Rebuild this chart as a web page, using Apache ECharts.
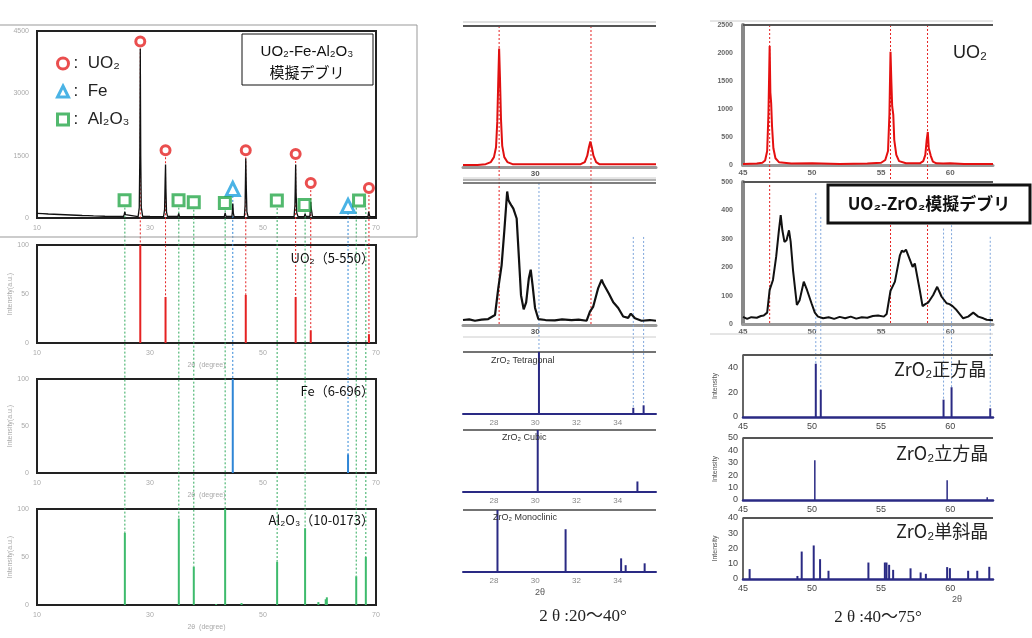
<!DOCTYPE html>
<html>
<head>
<meta charset="utf-8" />
<title>XRD</title>
<style>
  html, body { margin: 0; padding: 0; background: #fff; }
  #main { width: 1032px; height: 638px; }
</style>
</head>
<body>
<div id="main"></div>
<script src="https://cdn.jsdelivr.net/npm/echarts@6/dist/echarts.min.js"></script>
<script>
// ---------- left column : UO2-Fe-Al2O3 ----------
var mixPattern = [
  [10,110],[11,105],[12,96],[13,90],[14,84],[15,78],[16,72],[17,66],[18,60],[19,55],[20,50],[21,46],[22,42],[23,40],[24,38],
  [25.3,36],[25.45,90],[25.55,150],[25.65,80],[25.8,36],
  [27.9,35],[28.1,250],[28.2,1500],[28.28,4070],[28.36,1500],[28.46,250],[28.7,40],
  [30,36],[32.4,35],[32.58,200],[32.68,900],[32.75,1290],[32.82,700],[32.92,150],[33.1,38],
  [34.95,36],[35.08,110],[35.22,36],[37.62,34],[37.75,70],[37.9,34],
  [42,32],[43.15,32],[43.3,120],[43.45,40],[44.5,40],[44.58,150],[44.65,350],[44.75,120],[44.88,36],
  [46.7,35],[46.83,300],[46.95,1430],[47.05,700],[47.15,150],[47.35,36],
  [50,34],[52.35,32],[52.5,50],[52.65,32],
  [55.5,34],[55.65,300],[55.78,1290],[55.86,600],[55.98,120],[56.2,36],
  [57.3,34],[57.45,100],[57.6,40],[58.3,40],[58.38,200],[58.45,390],[58.52,250],[58.6,220],[58.75,40],
  [61,32],[64.9,30],[65.05,45],[65.2,30],[66.35,30],[66.5,50],[66.65,30],
  [68.05,30],[68.2,55],[68.35,30],[68.6,40],[68.7,150],[68.78,190],[68.9,40],[70,30]
];
var uo2Peaks = [28.28, 32.75, 46.95, 55.78, 58.45, 68.75];
var uo2Marks = [4250, 1630, 1630, 1540, 840, 720];
var uo2Ref = [100, 47, 49, 47, 13, 9];
var fePeaks = [44.65, 65.05];
var feMarks = [700, 290];
var feRef = [100, 20];
var al2o3Marks = [[25.5,430],[35.05,430],[37.75,380],[43.25,360],[52.45,420],[57.35,310],[67.0,420]];
var al2o3Ref = [[25.55,75],[35.1,90],[37.75,40],[41.7,1],[43.3,100],[46.2,2],[52.5,45],[57.45,80],[59.8,3],[61.1,6],[61.3,8],[66.5,30],[68.2,50]];
var al2o3GuideTheta = [25.55, 35.1, 37.75, 43.3, 52.5, 57.45, 66.5, 68.2];
var al2o3GuideStart = [250, 250, 200, 185, 240, 130, 250, 240];
var leftTicks = [10, 30, 50, 70];

// ---------- middle column : 2theta 26.5-36 ----------
var uo2LowPattern = [
  [26.5,1.5],[27.2,1.5],[27.6,2],[27.85,3.5],[28.0,7],[28.1,14],[28.16,32],[28.21,62],[28.25,84],[28.29,64],[28.34,34],[28.4,15],
  [28.5,7],[28.65,3.5],[28.9,2],[30,2],[31,2],[32.2,2],[32.4,3.5],[32.52,8],[32.6,14],[32.67,18],[32.74,14],[32.82,8],[32.95,3.5],
  [33.1,2],[34,2],[35.85,2]
];
var mixLowPattern = [
  [26.5,3.5],[26.8,4],[27.08,3],[27.4,3.8],[27.72,4.2],[28.05,7],[28.21,26],[28.37,42],[28.5,66],[28.64,94],[28.7,88],[28.77,86],
  [28.85,84],[28.94,82],[29.1,75],[29.21,47],[29.31,21],[29.44,11],[29.56,16],[29.69,33],[29.78,39],[29.87,28],[29.99,12],
  [30.15,4.2],[30.5,3.5],[30.95,3.3],[31.3,4],[31.76,3.5],[32.1,3.8],[32.49,3],[32.65,9.4],[32.81,13],[33.05,26],[33.22,32],
  [33.3,29],[33.38,28],[33.57,22],[33.78,16],[34.02,12],[34.26,6],[34.5,5],[34.63,8],[34.83,4.7],[35.15,3],[35.55,3.5],[35.85,3]
];
var tetraLow = [[30.18,100],[34.75,10],[35.25,14]];
var cubicLow = [[30.12,100],[34.95,17]];
var monoLow = [[28.17,100],[31.47,69],[34.16,22],[34.38,11],[35.3,14]];
var uo2LowGuides = [28.25, 32.7];
var zrLowGuides = [[30.18,100,100],[34.75,62,10],[35.25,62,14]];
var lowTicks = [28, 30, 32, 34];
var lowTopTicks = [30];

// ---------- right column : 2theta 45-63 ----------
var uo2HighPattern = [
  [45,20],[46,25],[46.4,40],[46.6,80],[46.75,250],[46.84,900],[46.9,1700],[46.93,2125],[46.98,1300],[47.04,1100],[47.1,700],
  [47.2,300],[47.35,120],[47.6,50],[48.5,25],[50,30],[52,20],[54,25],[55.0,40],[55.3,90],[55.5,250],[55.6,900],[55.68,2020],
  [55.74,1500],[55.8,1050],[55.88,900],[55.95,450],[56.1,180],[56.3,70],[56.8,30],[57.8,30],[58.05,70],[58.2,180],[58.3,450],
  [58.38,590],[58.45,300],[58.52,330],[58.6,160],[58.75,60],[59.0,30],[59.5,25],[60,30],[61,20],[63.1,20]
];
var mixHighPattern = [
  [45,25],[45.3,18],[45.6,24],[46,22],[46.3,28],[46.5,30],[46.75,40],[46.93,120],[47.17,155],[47.4,236],[47.6,330],[47.73,383],
  [47.85,330],[48.0,289],[48.15,295],[48.33,330],[48.45,290],[48.62,190],[48.9,67],[49.1,84],[49.4,149],[49.64,119],[49.96,73],
  [50.2,40],[50.43,26],[50.8,20],[51.2,24],[51.6,18],[52,25],[52.4,20],[52.8,26],[53.2,19],[53.6,24],[54,22],[54.4,28],[54.78,30],
  [55.2,26],[55.4,35],[55.68,117],[56.0,149],[56.36,242],[56.5,258],[56.65,254],[56.8,262],[56.96,242],[57.28,201],[57.44,213],
  [57.8,119],[58.0,63],[58.2,70],[58.4,75],[58.77,102],[59.06,131],[59.38,96],[59.74,73],[59.95,70],[60.17,63],[60.46,49],
  [60.94,20],[61.3,26],[61.67,40],[62.03,26],[62.4,20],[62.64,15],[63.1,13]
];
var tetraHigh = [[50.27,43],[50.63,22],[59.52,14],[60.1,24],[62.9,7]];
var cubicHigh = [[50.2,32],[59.78,16],[62.68,2.2]];
var monoHigh = [
  [45.48,6.5],[48.94,2],[49.25,18],[50.12,22],[50.58,13],[51.19,5.4],[54.08,10.8],[55.27,10.8],[55.39,10.8],[55.58,9.3],
  [55.87,6],[57.13,7],[57.86,4.3],[58.24,3.4],[59.78,7.8],[59.98,7.1],[61.3,5.4],[61.96,5.4],[62.83,8]
];
var uo2HighGuides = [46.93, 55.68, 58.36];
var zrHighGuides = [[50.27,461,43],[50.63,377,22],[59.52,336,14],[60.1,348,24],[62.9,307,7]];
var highTicks = [45, 50, 55, 60];

// ---------- chart ----------
var RED = '#e52222', GREEN = '#2faa5c', BLUE = '#2f86d6', NAVY = '#2a2a84';
var chart = echarts.init(document.getElementById('main'));
var grids = [], xAxes = [], yAxes = [], series = [];
function plain(v) { return String(v); }

function addPanel(box, xa, ya, frame) {
  var i = grids.length;
  grids.push({ left: box[0], top: box[1], width: box[2], height: box[3], show: !!frame,
               borderColor: '#222', borderWidth: 2, backgroundColor: 'transparent' });
  xa.gridIndex = i; ya.gridIndex = i;
  xa.splitLine = { show: false }; ya.splitLine = { show: false };
  xAxes.push(xa); yAxes.push(ya);
  return i;
}

function leftX(named) {
  return { type: 'value', min: 10, max: 70, interval: 20,
    axisLine: { show: false }, axisTick: { show: false },
    axisLabel: { customValues: leftTicks, color: '#aaa', fontSize: 7, margin: 7, formatter: plain },
    name: named ? '2θ  (degree)' : '', nameLocation: 'middle', nameGap: 19,
    nameTextStyle: { color: '#aaa', fontSize: 7 } };
}
function leftY(max, step, named) {
  return { type: 'value', min: 0, max: max, interval: step,
    axisLine: { show: false }, axisTick: { show: false },
    axisLabel: { color: '#aaa', fontSize: 7, margin: 8, formatter: plain },
    name: named ? 'Intensity(a.u.)' : '', nameLocation: 'middle', nameGap: 22,
    nameTextStyle: { color: '#aaa', fontSize: 7 } };
}
function midX(ticks, lineColor, lineW, bold) {
  return { type: 'value', min: 26.5, max: 35.85,
    axisLine: { lineStyle: { color: lineColor, width: lineW } }, axisTick: { show: false },
    axisLabel: { customValues: ticks, color: bold ? '#555' : '#888', fontSize: 8, fontWeight: bold ? 'bold' : 'normal',
                 margin: bold ? 3 : 5, formatter: plain } };
}
function midY() {
  return { type: 'value', min: 0, max: 100, show: false };
}
function rightX(lineColor, lineW, bold) {
  return { type: 'value', min: 45, max: 63.1, interval: 5,
    axisLine: { lineStyle: { color: lineColor, width: lineW } }, axisTick: { show: false },
    axisLabel: { customValues: highTicks, color: bold ? '#666' : '#444', fontSize: bold ? 8 : 9,
                 fontWeight: bold ? 'bold' : 'normal', margin: bold ? 4 : 5, formatter: plain } };
}
function rightY(max, step, bold, named) {
  return { type: 'value', min: 0, max: max, interval: step,
    axisLine: { show: true, lineStyle: { color: bold ? '#888' : '#333', width: bold ? 4 : 1.5 } },
    axisTick: { show: false },
    axisLabel: { color: bold ? '#666' : '#444', fontSize: bold ? 7 : 9, fontWeight: bold ? 'bold' : 'normal',
                 margin: bold ? 10 : 5, showMaxLabel: max % step === 0, formatter: plain },
    name: named ? 'Intensity' : '', nameLocation: 'middle', nameGap: 24,
    nameTextStyle: { color: '#555', fontSize: 7 } };
}

function lineSeries(gi, data, color, width) {
  series.push({ type: 'line', xAxisIndex: gi, yAxisIndex: gi, data: data, showSymbol: false,
    lineStyle: { color: color, width: width }, silent: true, animation: false, z: 3 });
}
function stickSeries(gi, data, color, width) {
  series.push({ type: 'custom', xAxisIndex: gi, yAxisIndex: gi, data: data, encode: { x: 0, y: 1 },
    silent: true, animation: false, z: 3,
    renderItem: function (params, api) {
      var p0 = api.coord([api.value(0), 0]);
      var p1 = api.coord([api.value(0), api.value(1)]);
      return { type: 'line', shape: { x1: p0[0], y1: p0[1], x2: p1[0], y2: p1[1] },
               style: { stroke: color, lineWidth: width } };
    } });
}
function pairs(xs, ys) {
  return xs.map(function (x, i) { return [x, ys[i]]; });
}

// left panels
var gMix = addPanel([37, 31, 339, 187], leftX(false), leftY(4500, 1500, false), true);
var gUo2 = addPanel([37, 245, 339, 98], leftX(true), leftY(100, 50, true), true);
var gFe = addPanel([37, 379, 339, 94], leftX(true), leftY(100, 50, true), true);
var gAl = addPanel([37, 509, 339, 96], leftX(true), leftY(100, 50, true), true);
// middle panels
var gMidR = addPanel([463, 26, 193, 141], midX(lowTopTicks, '#9a9a9a', 3, true), midY());
var gMidB = addPanel([463, 183, 193, 142], midX(lowTopTicks, '#9a9a9a', 3, true), midY());
var gMidT = addPanel([463, 352, 193, 62], midX(lowTicks, NAVY, 2, false), midY());
var gMidC = addPanel([463, 430, 193, 62], midX(lowTicks, NAVY, 2, false), midY());
var gMidM = addPanel([463, 510, 193, 62], midX(lowTicks, NAVY, 2, false), midY());
// right panels
var gRR = addPanel([743, 25, 250, 140], rightX('#9a9a9a', 3, true), rightY(2500, 500, true, false));
var gRB = addPanel([743, 182, 250, 142], rightX('#9a9a9a', 3, true), rightY(500, 100, true, false));
var gRT = addPanel([743, 355, 250, 62], rightX(NAVY, 2.5, false), rightY(50, 20, false, true));
var gRC = addPanel([743, 438, 250, 62], rightX(NAVY, 2.5, false), rightY(50, 10, false, true));
var gRM = addPanel([743, 518, 250, 61], rightX(NAVY, 2.5, false), rightY(40, 10, false, true));

var circleStyle = { color: '#fff', borderColor: RED, borderWidth: 3 };
var triStyle = { color: '#fff', borderColor: '#1da0df', borderWidth: 3 };
var rectStyle = { color: '#fff', borderColor: '#27a84a', borderWidth: 3 };

lineSeries(gMix, mixPattern, '#111', 1.3);
series.push({ name: 'UO2', type: 'scatter', xAxisIndex: gMix, yAxisIndex: gMix, data: pairs(uo2Peaks, uo2Marks),
  symbol: 'circle', symbolSize: 9, itemStyle: circleStyle, z: 5 });
series.push({ name: 'Fe', type: 'scatter', xAxisIndex: gMix, yAxisIndex: gMix, data: pairs(fePeaks, feMarks),
  symbol: 'triangle', symbolSize: 13, itemStyle: triStyle, z: 5 });
series.push({ name: 'Al2O3', type: 'scatter', xAxisIndex: gMix, yAxisIndex: gMix, data: al2o3Marks,
  symbol: 'rect', symbolSize: 11, itemStyle: rectStyle, z: 5 });
stickSeries(gUo2, pairs(uo2Peaks, uo2Ref), RED, 2);
stickSeries(gFe, pairs(fePeaks, feRef), BLUE, 2);
stickSeries(gAl, al2o3Ref, '#3dbb6c', 2);

lineSeries(gMidR, uo2LowPattern, '#e01010', 2);
lineSeries(gMidB, mixLowPattern, '#111', 2.2);
stickSeries(gMidT, tetraLow, NAVY, 2);
stickSeries(gMidC, cubicLow, NAVY, 2);
stickSeries(gMidM, monoLow, NAVY, 2);

lineSeries(gRR, uo2HighPattern, '#e51010', 2);
lineSeries(gRB, mixHighPattern, '#111', 2);
stickSeries(gRT, tetraHigh, NAVY, 2);
stickSeries(gRC, cubicHigh, NAVY, 1.5);
stickSeries(gRM, monoHigh, NAVY, 2);

var subName = { 'UO2': ':  UO₂', 'Fe': ':  Fe', 'Al2O3': ':  Al₂O₃' };
chart.setOption({
  animation: false,
  textStyle: { fontFamily: 'Liberation Sans, Noto Sans CJK JP, sans-serif' },
  grid: grids, xAxis: xAxes, yAxis: yAxes, series: series,
  legend: {
    data: [
      { name: 'UO2', icon: 'circle', itemStyle: circleStyle },
      { name: 'Fe', icon: 'triangle', itemStyle: triStyle },
      { name: 'Al2O3', icon: 'rect', itemStyle: rectStyle }
    ],
    orient: 'vertical', left: 51, top: 50, itemGap: 11,
    itemWidth: 11, itemHeight: 11, selectedMode: false,
    textStyle: { fontSize: 17, color: '#222' },
    formatter: function (name) { return subName[name]; } }
});

// ---------- decorations and guide lines ----------
var g = [];
function px(gi, x, y) { return chart.convertToPixel({ xAxisIndex: gi, yAxisIndex: gi }, [x, y]); }
function seg(x1, y1, x2, y2, color, w, dash, z) {
  g.push({ type: 'line', silent: true, z: z || 1, shape: { x1: x1, y1: y1, x2: x2, y2: y2 },
           style: { stroke: color, lineWidth: w, lineDash: dash || null } });
}
function txt(x, y, s, font, align, color, rot) {
  g.push({ type: 'text', silent: true, z: 60, x: x, y: y, rotation: rot || 0,
           style: { text: s, font: font, fill: color || '#111', textAlign: align || 'left', textVerticalAlign: 'middle' } });
}
function box(x, y, w, h, lw) {
  g.push({ type: 'rect', silent: true, z: 50, shape: { x: x, y: y, width: w, height: h },
           style: { fill: '#fff', stroke: '#111', lineWidth: lw } });
}

// left guides
uo2Peaks.forEach(function (t, i) {
  var a = px(gMix, t, uo2Marks[i]), b = px(gUo2, t, uo2Ref[i]);
  seg(a[0], a[1] + 7, b[0], b[1], RED, 1, [2, 2]);
});
fePeaks.forEach(function (t, i) {
  var a = px(gMix, t, feMarks[i]), b = px(gFe, t, feRef[i]);
  seg(a[0], a[1] + 7, b[0], b[1], BLUE, 1, [2, 2]);
});
al2o3GuideTheta.forEach(function (t, i) {
  var ref = al2o3Ref.filter(function (r) { return r[0] === t; })[0];
  var a = px(gMix, t, al2o3GuideStart[i]), b = px(gAl, t, ref[1]);
  seg(a[0], a[1], b[0], b[1], GREEN, 1, [2, 2]);
});
// middle guides
uo2LowGuides.forEach(function (t) {
  var a = px(gMidR, t, 100), b = px(gMidB, t, 0);
  seg(a[0], a[1], b[0], b[1], RED, 1, [2, 2]);
});
zrLowGuides.forEach(function (r) {
  var a = px(gMidB, r[0], r[1]), b = px(gMidT, r[0], r[2]);
  seg(a[0], a[1], b[0], b[1], '#7fa6dc', 1, [2, 2]);
});
// right guides
uo2HighGuides.forEach(function (t) {
  var a = px(gRR, t, 2500), b = px(gRB, t, 0);
  seg(a[0], a[1], b[0], b[1], RED, 1, [2, 2]);
});
zrHighGuides.forEach(function (r) {
  var a = px(gRB, r[0], r[1]), b = px(gRT, r[0], r[2]);
  seg(a[0], a[1], b[0], b[1], '#7fa6dc', 1, [2, 2]);
});

// frames and rules
seg(-1, 25, 417, 25, '#999', 1, null, 0);
seg(417, 25, 417, 237, '#999', 1, null, 0);
seg(-1, 237, 417, 237, '#999', 1, null, 0);
seg(463, 22, 656, 22, '#d6d6d6', 1.5);
seg(463, 26, 656, 26, '#555', 2);
seg(463, 178, 656, 178, '#ccc', 1);
seg(463, 180, 656, 180, '#999', 1.5);
seg(463, 183, 656, 183, '#555', 1.5);
seg(463, 337, 656, 337, '#ccc', 1);
seg(463, 352, 656, 352, '#444', 1.5);
seg(463, 430, 656, 430, '#444', 1.5);
seg(463, 510, 656, 510, '#444', 1.5);
seg(710, 21, 993, 21, '#ccc', 1);
seg(743, 25, 993, 25, '#555', 2);
seg(743, 182, 993, 182, '#555', 2);
seg(710, 334, 993, 334, '#ccc', 1);
seg(743, 355, 993, 355, '#555', 2);
seg(743, 438, 993, 438, '#555', 2);
seg(743, 518, 993, 518, '#555', 2);

// labels
var sans = 'Liberation Sans, Noto Sans CJK JP, sans-serif';
var cjk = 'Noto Sans CJK JP, sans-serif';
box(242, 34, 131, 51, 1);
txt(307, 52, 'UO₂-Fe-Al₂O₃', '15px ' + sans, 'center');
txt(307, 72, '模擬デブリ', '15px ' + cjk, 'center');
txt(374, 258, 'UO₂（5-550）', '13px ' + cjk, 'right');
txt(374, 391, 'Fe（6-696）', '13px ' + cjk, 'right');
txt(374, 520, 'Al₂O₃（10-0173）', '13px ' + cjk, 'right');

txt(491, 361, 'ZrO₂ Tetragonal', '9px ' + sans, 'left', '#333');
txt(502, 438, 'ZrO₂ Cubic', '9px ' + sans, 'left', '#333');
txt(493, 518, 'ZrO₂ Monoclinic', '9px ' + sans, 'left', '#333');
txt(540, 593, '2θ', '9px ' + sans, 'center', '#555');
txt(583, 617, '2 θ :20～40°', '17px Liberation Serif, Noto Sans CJK JP, serif', 'center', '#222');

txt(953, 53, 'UO₂', '18px ' + sans, 'left', '#222');
box(828, 185, 202, 38, 3);
txt(929, 204, 'UO₂-ZrO₂模擬デブリ', 'bold 17px ' + cjk, 'center');
txt(894, 369, 'ZrO₂正方晶', '18px ' + cjk, 'left', '#222');
txt(896, 453, 'ZrO₂立方晶', '18px ' + cjk, 'left', '#222');
txt(896, 531, 'ZrO₂単斜晶', '18px ' + cjk, 'left', '#222');
txt(957, 600, '2θ', '9px ' + sans, 'center', '#555');
txt(878, 618, '2 θ :40～75°', '17px Liberation Serif, Noto Sans CJK JP, serif', 'center', '#222');

chart.setOption({ graphic: { elements: g } });
</script>
</body>
</html>
